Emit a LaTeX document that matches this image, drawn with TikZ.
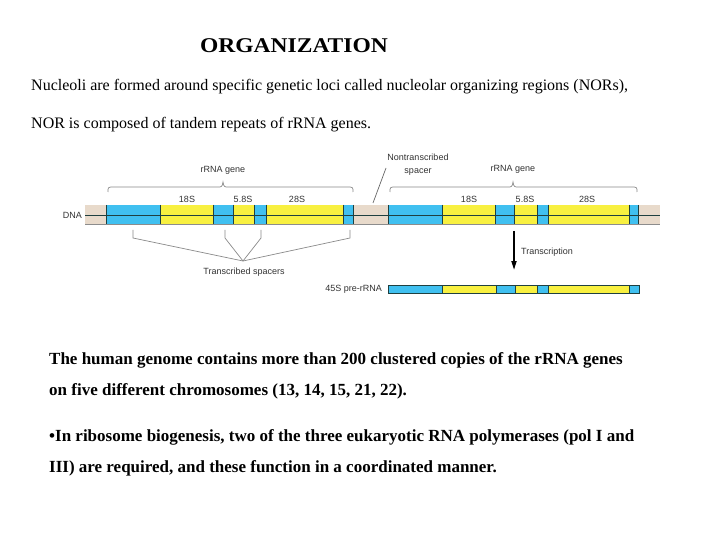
\documentclass[tikz,border=0pt]{standalone}
\usepackage{fontspec}
\setmainfont{Liberation Serif}
\newfontfamily\labfont{Liberation Sans}
\usetikzlibrary{arrows.meta}
\definecolor{dblue}{HTML}{40C0F0}
\definecolor{dyel}{HTML}{F8F040}
\definecolor{beige}{HTML}{E8DACB}
\definecolor{edgec}{HTML}{1F4040}
\definecolor{brgray}{HTML}{8A8A8A}
\tikzset{
  lab/.style={font=\labfont\fontsize{9}{10}\selectfont, text=black!80, inner sep=0pt},
  para/.style={anchor=mid west, inner sep=0pt},
  bodytext/.style={para, font=\bfseries\fontsize{17}{20}\selectfont},
  toptext/.style={para, font=\fontsize{16}{19}\selectfont},
  seg/.style={draw=edgec, line width=0.6pt},
  thin gray/.style={draw=brgray, line width=0.7pt},
}
\begin{document}
\begin{tikzpicture}[x=1pt,y=-1pt]
\useasboundingbox (0,0) rectangle (720,540);
\fill[white] (0,0) rectangle (720,540);

% texts
\node[anchor=mid, inner sep=0pt, font=\bfseries\fontsize{21}{25}\selectfont] (title) at (294,50) {\scalebox{1.12}[1]{ORGANIZATION}};
\node[toptext] (l1) at (31,88) {Nucleoli are formed around specific genetic loci called nucleolar organizing regions (NORs),};
\node[toptext] (l2) at (31,126) {NOR is composed of tandem repeats of rRNA genes.};
\node[bodytext] (l3) at (49,362) {The human genome contains more than 200 clustered copies of the rRNA genes};
\node[bodytext] (l4) at (49,393) {on five different chromosomes (13, 14, 15, 21, 22).};
\node[bodytext] (l5) at (49,439) {\textbullet In ribosome biogenesis, two of the three eukaryotic RNA polymerases (pol I and};
\node[bodytext] (l6) at (49,470) {III) are required, and these function in a coordinated manner.};

% DNA bar
\fill[beige] (85,205) rectangle (660,224);
\draw[black!45, line width=1.4pt] (85,224.3) -- (660,224.3);
\foreach \a/\b/\c in {106/160/dblue,160/213/dyel,213/233/dblue,233/254/dyel,254/266/dblue,266/343/dyel,343/353/dblue,
                      388/442/dblue,442/495/dyel,495/514/dblue,514/537/dyel,537/548/dblue,548/629/dyel,629/638/dblue}{
  \fill[\c] (\a,205) rectangle (\b,224);
  \draw[seg] (\a,205) -- (\a,224) (\b,205) -- (\b,224);
}
\draw[edgec, line width=0.8pt] (85,215) -- (660,215);

% pre-rRNA bar
\foreach \a/\b/\c in {388/442/dblue,442/496/dyel,496/515/dblue,515/537/dyel,537/548/dblue,548/629/dyel,629/639/dblue}{
  \filldraw[seg, fill=\c] (\a,285) rectangle (\b,293);
}

% labels
\node[lab, anchor=east] (dna) at (82,215) {DNA};
\node[lab] (a18) at (187,199) {18S};
\node[lab] (a58) at (243,199) {5.8S};
\node[lab] (a28) at (297,199) {28S};
\node[lab] (b18) at (469,199) {18S};
\node[lab] (b58) at (525,199) {5.8S};
\node[lab] (b28) at (587,199) {28S};
\node[lab] (g1) at (223,170) {rRNA gene};
\node[lab] (g2) at (513,169) {rRNA gene};
\node[lab, align=center, font=\labfont\fontsize{9}{13}\selectfont] (nts) at (418,165) {Nontranscribed\\spacer};
\node[lab] (ts) at (244,272) {Transcribed spacers};
\node[lab, anchor=west] (tr) at (521,252) {Transcription};
\node[lab, anchor=east] (pre) at (382,289) {45S pre-rRNA};

% braces
\draw[thin gray] (108,192) .. controls (108,187) .. (114,187) -- (217,187) .. controls (222,187) .. (223,182) .. controls (224,187) .. (229,187) -- (347,187) .. controls (353,187) .. (353,192);
\draw[thin gray] (390,192) .. controls (390,187) .. (396,187) -- (507,187) .. controls (512,187) .. (513,182) .. controls (514,187) .. (519,187) -- (631,187) .. controls (637,187) .. (637,192);

% nontranscribed spacer pointer
\coordinate (ntsEnd) at (373,203);
\draw[thin gray, draw=black!60] (386,168) -- (ntsEnd);

% transcribed spacers pointers
\coordinate (conv) at (243,261);
\foreach \x in {133,225,261,350}{
  \draw[thin gray] (\x,230) -- (\x,238) -- (conv);
}

% transcription arrow
\coordinate (ta) at (514,231);
\coordinate (tb) at (514,270);
\draw[line width=1.8pt, -{Triangle[length=9pt,width=5pt]}] (ta) -- (tb);
\end{tikzpicture}
\end{document}
